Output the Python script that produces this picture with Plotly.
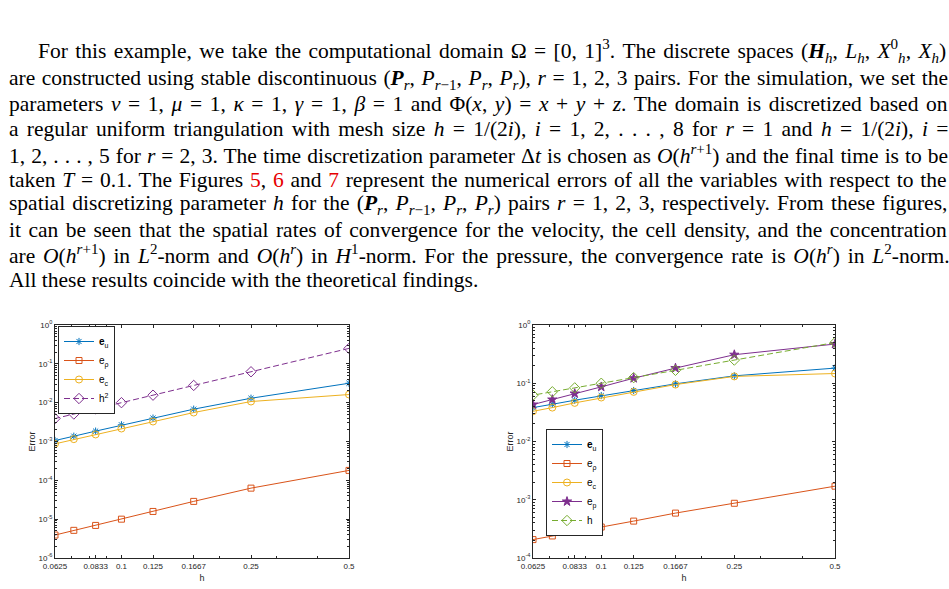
import plotly.graph_objects as go

W, H = 949, 589

# ---------------- data ----------------
h_vals = [0.5, 0.25, 0.1667, 0.125, 0.1, 0.0833, 0.0714, 0.0625]
h_ticks = [0.0625, 0.0833, 0.1, 0.125, 0.1667, 0.25, 0.5]
h_ticktext = ["0.0625", "0.0833", "0.1", "0.125", "0.1667", "0.25", "0.5"]

# left figure (r = 1)
L_eu = [0.0316, 0.0130, 0.0068, 0.0040, 0.00269, 0.00185, 0.00137, 0.00106]
L_erho = [1.8e-4, 6.3e-5, 2.87e-5, 1.58e-5, 1.0e-5, 6.9e-6, 5.16e-6, 3.9e-6]
L_ec = [0.0162, 0.0107, 0.00557, 0.00327, 0.00216, 0.00152, 0.00115, 0.00087]
L_h2 = [0.25, 0.0625, 0.0278, 0.0156, 0.01, 0.00694, 0.0051, 0.0039]

# right figure
R_eu = [0.182, 0.134, 0.0977, 0.075, 0.0615, 0.0511, 0.0436, 0.0382]
R_erho = [1.71e-3, 8.7e-4, 5.9e-4, 4.3e-4, 3.4e-4, 2.84e-4, 2.39e-4, 2.07e-4]
R_ec = [0.147, 0.131, 0.095, 0.0711, 0.0569, 0.046, 0.0382, 0.033]
R_ep = [0.471, 0.309, 0.182, 0.122, 0.0867, 0.0666, 0.0525, 0.0431]
R_h = [0.5, 0.25, 0.1667, 0.125, 0.1, 0.0833, 0.0714, 0.0625]

L_ytick_exp = [-6, -5, -4, -3, -2, -1, 0]
R_ytick_exp = [-4, -3, -2, -1, 0]

# paragraph text (one entry per printed line)
para_lines = [
    "For this example, we take the computational domain Ω = [0, 1]<sup>3</sup>. The discrete spaces (<b><i>H</i></b><sub><i>h</i></sub>, <i>L</i><sub><i>h</i></sub>, <i>X</i><sup>0</sup><sub><i>h</i></sub>, <i>X</i><sub><i>h</i></sub>)",
    "are constructed using stable discontinuous (<b><i>P</i></b><sub><i>r</i></sub>, <i>P</i><sub><i>r</i>−1</sub>, <i>P</i><sub><i>r</i></sub>, <i>P</i><sub><i>r</i></sub>), <i>r</i> = 1, 2, 3 pairs. For the simulation, we set the",
    "parameters <i>ν</i> = 1, <i>μ</i> = 1, <i>κ</i> = 1, <i>γ</i> = 1, <i>β</i> = 1 and Φ(<i>x</i>, <i>y</i>) = <i>x</i> + <i>y</i> + <i>z</i>. The domain is discretized based on",
    "a regular uniform triangulation with mesh size <i>h</i> = 1/(2<i>i</i>), <i>i</i> = 1, 2, . . . , 8 for <i>r</i> = 1 and <i>h</i> = 1/(2<i>i</i>), <i>i</i> =",
    "1, 2, . . . , 5 for <i>r</i> = 2, 3. The time discretization parameter Δ<i>t</i> is chosen as <i>O</i>(<i>h</i><sup><i>r</i>+1</sup>) and the final time is to be",
    "taken <i>T</i> = 0.1. The Figures <span style='color:#e60000'>5</span>, <span style='color:#e60000'>6</span> and <span style='color:#e60000'>7</span> represent the numerical errors of all the variables with respect to the",
    "spatial discretizing parameter <i>h</i> for the (<b><i>P</i></b><sub><i>r</i></sub>, <i>P</i><sub><i>r</i>−1</sub>, <i>P</i><sub><i>r</i></sub>, <i>P</i><sub><i>r</i></sub>) pairs <i>r</i> = 1, 2, 3, respectively. From these figures,",
    "it can be seen that the spatial rates of convergence for the velocity, the cell density, and the concentration",
    "are <i>O</i>(<i>h</i><sup><i>r</i>+1</sup>) in <i>L</i><sup>2</sup>-norm and <i>O</i>(<i>h</i><sup><i>r</i></sup>) in <i>H</i><sup>1</sup>-norm. For the pressure, the convergence rate is <i>O</i>(<i>h</i><sup><i>r</i></sup>) in <i>L</i><sup>2</sup>-norm.",
    "All these results coincide with the theoretical findings.",
]
# word spacing (px) per line to justify the paragraph
para_wordspacing = [2.0, 1.2, 2.23, 2.93, 0.67, 1.38, 1.84, 2.06, 2.45, 0]
# small vertical nudges (px) per line (compensate sub/superscript boxes)
para_ynudge = [-2.5, 0, 0, 0, 0, 0, 0, 0, 0, 0]

# ---------------- styling ----------------
C_BLUE = "#0072BD"
C_ORANGE = "#D95319"
C_YELLOW = "#EDB120"
C_PURPLE = "#7E2F8E"
C_GREEN = "#77AC30"
AX = "#262626"

fig = go.Figure()


def add_series(x, y, name, color, symbol, size, xa, ya, legend, dash="solid"):
    fig.add_trace(go.Scatter(
        x=x, y=y, name=name, mode="lines+markers",
        line=dict(color=color, width=1, dash=dash),
        marker=dict(symbol=symbol, size=size, color=color,
                    line=dict(color=color, width=1)),
        xaxis=xa, yaxis=ya, legend=legend,
    ))


add_series(h_vals, L_eu, "<b>e</b><sub>u</sub>", C_BLUE, "asterisk-open", 6, "x", "y", "legend")
add_series(h_vals, L_erho, "e<sub>ρ</sub>", C_ORANGE, "square-open", 6, "x", "y", "legend")
add_series(h_vals, L_ec, "e<sub>c</sub>", C_YELLOW, "circle-open", 7, "x", "y", "legend")
add_series(h_vals, L_h2, "h<sup>2</sup>", C_PURPLE, "diamond-open", 8, "x", "y", "legend", dash="6px,3px")

add_series(h_vals, R_eu, "<b>e</b><sub>u</sub>", C_BLUE, "asterisk-open", 6, "x2", "y2", "legend2")
add_series(h_vals, R_erho, "e<sub>ρ</sub>", C_ORANGE, "square-open", 6, "x2", "y2", "legend2")
add_series(h_vals, R_ec, "e<sub>c</sub>", C_YELLOW, "circle-open", 7, "x2", "y2", "legend2")
add_series(h_vals, R_ep, "e<sub>p</sub>", C_PURPLE, "star", 7, "x2", "y2", "legend2")
add_series(h_vals, R_h, "h", C_GREEN, "diamond-open", 8, "x2", "y2", "legend2", dash="6px,3px")

x_minor = [0.07, 0.08, 0.09, 0.2, 0.3, 0.4]


def y_minor(lo, hi):
    out = []
    for e in range(lo, hi):
        for k in range(2, 10):
            out.append(k * 10.0 ** e)
    return out


tickfont = dict(family="Liberation Sans", size=8, color=AX)
titlefont = dict(family="Liberation Sans", size=9, color=AX)


def xaxis_cfg(domain, anchor):
    return dict(
        type="log", domain=domain, anchor=anchor, automargin=False,
        range=[-1.2041, -0.30103],
        tickmode="array", tickvals=h_ticks, ticktext=h_ticktext,
        ticks="inside", ticklen=3, tickcolor=AX, tickwidth=1,
        minor=dict(tickvals=x_minor, ticks="inside", ticklen=2, tickcolor=AX),
        showline=True, linecolor=AX, linewidth=1, mirror="ticks",
        showgrid=False, zeroline=False, tickfont=tickfont,
        title=dict(text="h", font=titlefont, standoff=5),
    )


def yaxis_cfg(domain, anchor, exps):
    return dict(
        type="log", domain=domain, anchor=anchor, automargin=False,
        range=[exps[0], exps[-1]],
        tickmode="array", tickvals=[10.0 ** e for e in exps],
        ticktext=["10<sup>%d</sup>" % e for e in exps],
        ticks="inside", ticklen=3, tickcolor=AX, tickwidth=1,
        minor=dict(tickvals=y_minor(exps[0], exps[-1]), ticks="inside", ticklen=2, tickcolor=AX),
        showline=True, linecolor=AX, linewidth=1, mirror="ticks",
        showgrid=False, zeroline=False, tickfont=tickfont,
        title=dict(text="Error", font=titlefont, standoff=1),
    )


ydom = [1 - 558 / H, 1 - 325 / H]
legend_common = dict(
    xanchor="left", yanchor="top", bgcolor="white",
    bordercolor=AX, borderwidth=1, tracegroupgap=0,
    font=dict(family="Liberation Sans", size=10, color="black"),
    itemwidth=30,
)

fig.update_layout(
    template="none",
    width=W, height=H, margin=dict(l=0, r=0, t=0, b=0, autoexpand=False),
    paper_bgcolor="white", plot_bgcolor="white",
    showlegend=True,
    xaxis=xaxis_cfg([55 / W, 349 / W], "y"),
    yaxis=yaxis_cfg(ydom, "x", L_ytick_exp),
    xaxis2=xaxis_cfg([533 / W, 835 / W], "y2"),
    yaxis2=yaxis_cfg(ydom, "x2", R_ytick_exp),
    legend=dict(x=58 / W, y=1 - 326 / H, **legend_common),
    legend2=dict(x=546 / W, y=1 - 429 / H, **legend_common),
)

# paragraph annotations
line_y0 = 54.0
line_dy = 25.1
for i, (txt, ws, dy) in enumerate(zip(para_lines, para_wordspacing, para_ynudge)):
    x0 = 36.5 if i == 0 else 7.5
    fig.add_annotation(
        x=x0 / W, y=1 - (line_y0 + i * line_dy + dy) / H,
        xref="paper", yref="paper", xanchor="left", yanchor="middle",
        text="<span style='word-spacing:%.2fpx'>%s</span>" % (ws, txt),
        showarrow=False, align="left", borderpad=0,
        font=dict(family="Liberation Serif", size=21.5, color="black"),
    )

fig.write_html("out.html")
